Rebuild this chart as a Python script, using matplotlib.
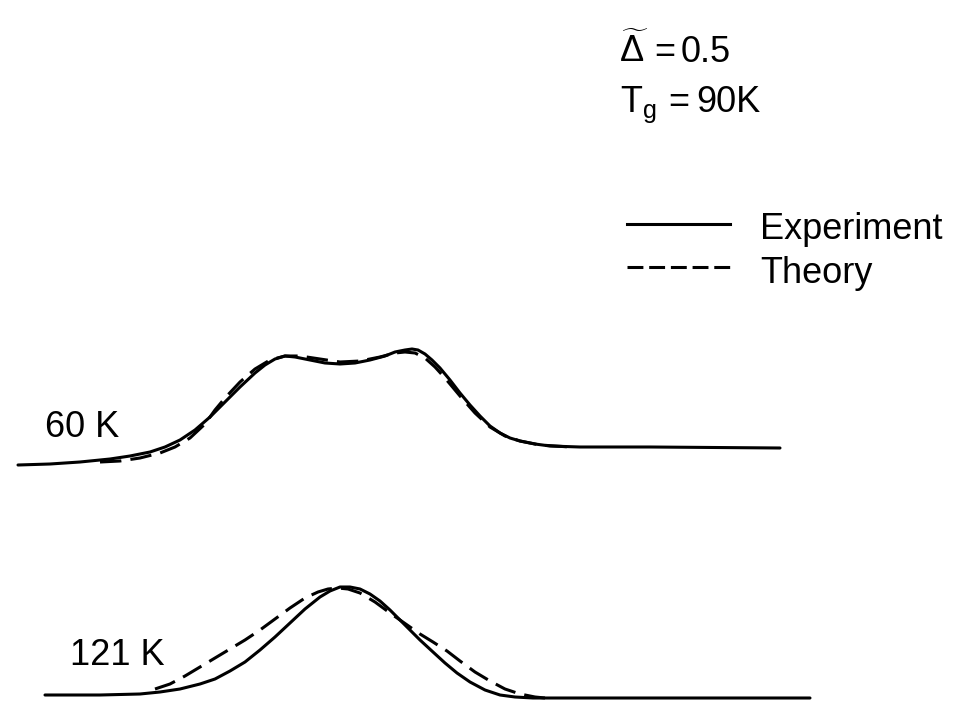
import matplotlib
matplotlib.use("Agg")
import matplotlib.pyplot as plt

# Traces (x: arbitrary energy units, y: intensity, offset per temperature)
x_exp_60 = [18, 50, 80, 110, 130, 150, 165, 180, 195, 210, 225, 240, 255, 265, 275,
            285, 295, 310, 325, 340, 355, 370, 385, 395, 405, 412, 418, 425, 432,
            440, 450, 460, 470, 480, 490, 500, 510, 520, 535, 550, 580, 650, 780]
y_exp_60 = [465, 464, 462, 459, 456, 452, 447, 440, 430, 417, 402, 387, 373, 365, 359,
            356, 357, 360, 363, 364, 363, 360, 356, 352, 350, 349, 350, 354, 360,
            368, 380, 393, 405, 416, 426, 433, 438, 441, 444, 446, 447, 447, 448]

x_th_60 = [100, 120, 140, 160, 175, 190, 205, 215, 225, 240, 255, 270, 285, 300, 320,
           340, 360, 380, 395, 405, 415, 425, 435, 445, 460, 475, 490, 505, 520, 540, 570]
y_th_60 = [462, 461, 458, 453, 447, 438, 424, 410, 398, 382, 369, 360, 356, 356, 359,
           362, 361, 357, 353, 352, 353, 358, 367, 378, 396, 413, 427, 436, 441, 445, 447]

x_exp_121 = [45, 100, 140, 160, 180, 200, 215, 230, 245, 260, 275, 290, 305, 320, 330,
             340, 350, 360, 370, 380, 390, 400, 410, 420, 433, 445, 457, 470, 485,
             500, 515, 533, 600, 810]
y_exp_121 = [695, 695, 694, 692, 689, 684, 679, 671, 662, 650, 637, 623, 609, 597, 591,
             587, 587, 589, 594, 601, 610, 620, 630, 640, 652, 663, 673, 682, 690,
             695, 697, 698, 698, 698]

x_th_121 = [155, 170, 185, 200, 215, 230, 245, 260, 275, 290, 305, 318, 328, 338, 348,
            360, 375, 390, 400, 410, 420, 433, 447, 460, 475, 490, 505, 520, 535, 545]
y_th_121 = [689, 684, 676, 667, 658, 649, 640, 630, 619, 608, 598, 592, 589, 588, 589,
            593, 602, 613, 620, 627, 634, 642, 651, 661, 672, 681, 689, 694, 697, 698]

curve_labels = ["60 K", "121 K"]
legend_labels = ["Experiment", "Theory"]
param_delta = "0.5"
param_tg = "90K"

plt.rcParams["font.family"] = ["Liberation Sans", "DejaVu Sans"]
plt.rcParams["mathtext.fontset"] = "custom"
plt.rcParams["mathtext.rm"] = "Liberation Sans"
plt.rcParams["mathtext.it"] = "Liberation Sans"

fig = plt.figure(figsize=(9.54, 7.07), dpi=100)
ax = fig.add_axes([0, 0, 1, 1])
ax.set_xlim(0, 954)
ax.set_ylim(707, 0)
ax.axis("off")

lw = 2.2
dash = (0, (7, 3))
ax.plot(x_exp_60, y_exp_60, color="black", lw=lw, solid_capstyle="round")
ax.plot(x_th_60, y_th_60, color="black", lw=lw, linestyle=dash)
ax.plot(x_exp_121, y_exp_121, color="black", lw=lw, solid_capstyle="round")
ax.plot(x_th_121, y_th_121, color="black", lw=lw, linestyle=dash)

fs = 26
kw = dict(fontsize=fs, va="baseline", ha="left")
# curve labels
ax.text(45, 437, curve_labels[0], **kw)
ax.text(70, 665, curve_labels[1], **kw)

# legend
ax.plot([627, 730], [224, 224], color="black", lw=lw)
ax.plot([627, 730], [267, 267], color="black", lw=lw, linestyle=(0, (5.2, 1.9)))
ax.text(760, 239, legend_labels[0], **kw)
ax.text(760, 283, legend_labels[1], **kw)

# parameters
ax.text(619, 62, r"$\widetilde{\mathrm{\Delta}}$", **kw)
ax.text(654, 62, "=", **kw)
ax.text(681, 62, param_delta, **kw)
ax.text(620, 112, r"$\mathrm{T_g}$", **kw)
ax.text(668, 112, "=", **kw)
ax.text(696, 112, param_tg, **kw)

fig.savefig("out.png", dpi=100)
